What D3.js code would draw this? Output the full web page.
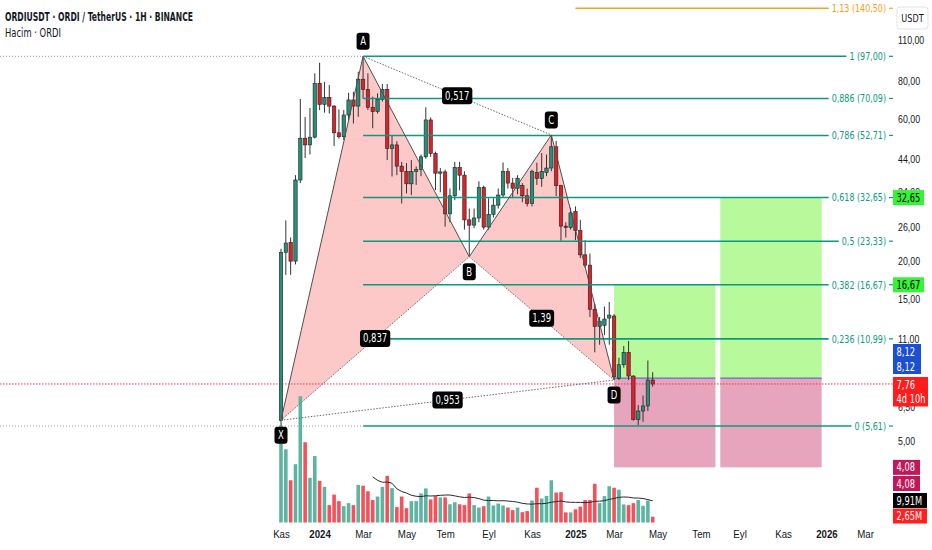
<!DOCTYPE html>
<html>
<head>
<meta charset="utf-8">
<script src="https://cdn.jsdelivr.net/npm/d3@7"></script>
<style>
body { margin: 0; background: #fff; }
svg { display: block; font-family: "Liberation Sans Narrow", "Arial Narrow", "DejaVu Sans Condensed", sans-serif; }
</style>
</head>
<body>
<div id="chart"></div>
<script>
// weekly candles, ORDI/USDT
const firstWeek = "2023-11-06";
const opens  = [5.85,21.4,23.1,20.0,37.4,51.6,49.0,52.0,78.8,67.0,70.7,66.1,53.8,52.2,61.7,69.3,66.1,81.3,75.2,65.5,
                63.3,69.6,75.2,47.7,49.0,41.6,39.9,36.3,39.9,40.5,44.7,59.4,45.9,39.4,39.8,28.8,33.1,41.2,38.8,27.5,
                26.4,27.9,35.3,26.0,28.7,30.8,33.3,39.9,36.5,35.1,35.8,33.1,31.2,39.6,37.8,39.6,41.0,48.3,35.8,26.2,
                25.9,29.3,25.3,21.0,19.4,13.8,12.1,12.2,12.9,13.1,8.1,9.0,9.9,8.25,5.9,6.3,6.55,8.0];
const highs  = [22.0,27.4,24.0,38.8,69.8,60.8,65.1,85.1,92.3,79.7,77.8,66.5,64.4,64.1,73.2,73.8,86.1,97.0,85.1,71.1,
                72.9,78.4,78.4,52.5,50.4,43.0,42.6,43.6,41.5,45.5,65.5,60.5,46.5,41.0,40.5,35.0,43.0,43.0,40.0,30.0,
                30.0,37.0,35.8,32.5,32.5,35.0,42.8,41.0,38.0,38.8,36.5,35.0,40.5,42.7,46.0,45.5,52.9,50.5,36.0,27.0,
                30.2,30.5,27.5,23.5,21.2,14.4,13.0,14.1,14.6,13.3,9.5,10.4,10.8,8.3,6.6,7.1,9.3,8.5];
const lows   = [5.61,18.0,18.0,19.5,36.5,44.3,45.5,51.5,64.1,62.8,62.4,48.6,51.4,50.9,59.4,57.8,60.8,70.0,64.1,55.7,
                62.4,68.4,43.6,38.4,38.8,31.2,33.7,33.3,36.0,38.5,44.0,44.7,34.6,34.0,26.1,27.0,32.0,34.5,25.5,20.7,
                25.8,27.0,25.5,25.5,28.0,30.0,32.8,35.0,32.5,33.5,31.5,30.5,30.5,36.0,35.5,38.5,40.0,33.0,23.4,24.0,
                25.5,23.5,20.5,19.0,13.0,9.9,10.5,11.3,10.5,8.0,8.0,8.8,8.0,5.85,5.65,5.8,6.3,7.6];
const closes = [21.4,23.0,20.0,37.4,51.6,49.0,52.0,78.8,67.0,70.7,66.1,53.8,52.2,61.7,69.3,66.1,81.3,75.2,65.5,63.3,
                69.6,75.2,47.7,49.0,41.6,39.9,36.3,39.9,40.5,44.7,59.4,45.9,39.4,39.8,28.8,33.1,41.2,38.8,27.5,26.4,
                27.9,35.3,26.0,28.7,30.8,33.3,39.9,36.5,35.1,37.9,33.1,31.2,39.9,37.8,39.9,41.0,48.3,35.8,26.2,25.9,
                29.0,25.3,21.0,19.4,13.8,12.1,12.6,12.8,13.2,8.2,9.0,9.9,8.25,5.9,6.3,6.55,8.0,7.76];
// volume in millions
const volumes = [44.0,33.3,19.2,26.5,57.4,36.5,20.3,30.2,18.9,16.2,7.9,12.7,9.7,7.4,8.8,7.9,17.1,16.7,14.2,10.2,
                 11.8,16.2,21.2,15.6,7.0,11.8,6.5,9.7,9.7,13.2,15.5,10.5,12.0,11.4,11.4,8.3,9.2,8.3,7.9,13.2,
                 7.9,6.8,7.4,11.8,7.7,8.6,7.7,6.8,5.6,6.8,4.7,5.2,10.0,15.8,10.9,12.1,19.2,13.6,13.8,4.6,
                 4.6,6.0,7.2,10.2,10.2,17.6,8.8,12.0,16.5,15.8,14.9,8.2,7.9,8.8,10.2,7.6,10.0,2.65];

// fibonacci retracement X -> A
const fibRatios = [1, 0.886, 0.786, 0.618, 0.5, 0.382, 0.236, 0];
const fibPrices = [97.00, 70.09, 52.71, 32.65, 23.33, 16.67, 10.99, 5.61];
const fibStart = "2024-03-04";
const extRatio = 1.13, extPrice = 140.50, extStart = "2025-01-06";

// XABCD pattern
const patLetters = ["X", "A", "B", "C", "D"];
const patDates   = ["2023-11-06", "2024-03-04", "2024-08-05", "2024-12-02", "2025-03-03"];
const patPrices  = [5.87, 97.0, 20.7, 52.9, 8.0];
const patRatios  = [[1, 3, "0,517"], [0, 2, "0,837"], [2, 4, "1,39"], [0, 4, "0,953"]];

// long positions
const posStarts  = ["2025-03-03", "2025-08-04"];
const posEnds    = ["2025-07-28", "2025-12-29"];
const posEntry   = 8.12;
const posTargets = [16.67, 32.65];
const posStop    = 4.08;
const lastPrice  = 7.76;
const barLeft    = "4d 10h";
const volMA      = "9,91M";
const volLast    = "2,65M";

// axes
const priceTicks = [110, 80, 60, 44, 34, 26, 20, 15, 11, 6.5, 5];
const timeTicks  = ["2023-11-06","2024-01-01","2024-03-04","2024-05-06","2024-07-01","2024-09-02","2024-11-04",
                    "2025-01-06","2025-03-03","2025-05-05","2025-07-07","2025-09-01","2025-11-03","2026-01-05","2026-03-02"];
const timeLabels = ["Kas","2024","Mar","May","Tem","Eyl","Kas","2025","Mar","May","Tem","Eyl","Kas","2026","Mar"];

const W = 932, H = 550;
const loc = d3.formatLocale({decimal: ",", thousands: ".", grouping: [3], currency: ["", ""]});
const f2 = loc.format(".2f");
const fr = loc.format("~g");
const pd = s => new Date(s + "T00:00:00Z");

// narrow the glyphs, the screenshot font is condensed
const squeeze = (sel, k) => sel.each(function () {
  const w = this.getComputedTextLength();
  d3.select(this).attr("textLength", w * k).attr("lengthAdjust", "spacingAndGlyphs");
});

const t0 = pd(firstWeek);
const weeks = opens.map((_, i) => d3.utcMonday.offset(t0, i));

const x = d3.scaleUtc().domain([t0, weeks[weeks.length - 1]]).range([281, 652.7]);
const y = d3.scaleLog().domain([110, 5]).range([40, 441]);
const yv = d3.scaleLinear().domain([0, 60]).range([522.5, 390.5]);

const svg = d3.select("#chart").append("svg").attr("width", W).attr("height", H);

const green = "#268f77", red = "#dc2228";

// dotted helper lines
[fibPrices[0], fibPrices[7]].forEach(p => {
  svg.append("line").attr("x1", 0).attr("x2", x(pd(fibStart)))
    .attr("y1", y(p)).attr("y2", y(p))
    .attr("stroke", "#9a9a9a").attr("stroke-dasharray", "1,2");
});

// long position zones
posStarts.forEach((s, i) => {
  const x0 = x(pd(s)), x1 = x(pd(posEnds[i]));
  svg.append("rect").attr("x", x0).attr("width", x1 - x0)
    .attr("y", y(posTargets[i])).attr("height", y(posEntry) - y(posTargets[i]))
    .attr("fill", "#b8f99c");
  svg.append("rect").attr("x", x0).attr("width", x1 - x0)
    .attr("y", y(posEntry)).attr("height", y(posStop) - y(posEntry))
    .attr("fill", "#e6a5bd");
  svg.append("line").attr("x1", x0).attr("x2", x1)
    .attr("y1", y(posEntry)).attr("y2", y(posEntry))
    .attr("stroke", "#3d5bd6").attr("stroke-width", 1);
});

// pattern triangles
const pt = i => [x(pd(patDates[i])), y(patPrices[i])];
[[0, 1, 2], [2, 3, 4]].forEach(tri => {
  svg.append("path")
    .attr("d", d3.line()(tri.map(pt)) + "Z")
    .attr("fill", "#fdc8c8");
});

// volume
svg.append("g").selectAll("rect")
  .data(volumes)
  .join("rect")
  .attr("x", (d, i) => x(weeks[i]) - 1.8)
  .attr("width", 3.6)
  .attr("y", d => yv(d))
  .attr("height", d => yv(0) - yv(d))
  .attr("fill", (d, i) => closes[i] >= opens[i] ? "#5bb5a1" : "#f6505a");

const ma = volumes.map((v, i) => i < 19 ? null : d3.mean(volumes.slice(i - 19, i + 1)));
svg.append("path")
  .attr("d", d3.line().defined(d => d != null).x((d, i) => x(weeks[i])).y(d => yv(d))(ma))
  .attr("fill", "none").attr("stroke", "#2b2b2b").attr("stroke-width", 1);

// current price line
svg.append("line").attr("x1", 0).attr("x2", 897)
  .attr("y1", y(lastPrice)).attr("y2", y(lastPrice))
  .attr("stroke", "#f23645").attr("stroke-dasharray", "1.5,1.5");

// candles
const candles = svg.append("g").selectAll("g")
  .data(opens)
  .join("g");
candles.append("line")
  .attr("x1", (d, i) => x(weeks[i])).attr("x2", (d, i) => x(weeks[i]))
  .attr("y1", (d, i) => y(highs[i])).attr("y2", (d, i) => y(lows[i]))
  .attr("stroke", "#333").attr("stroke-width", 1);
candles.append("rect")
  .attr("x", (d, i) => x(weeks[i]) - 1.7)
  .attr("width", 3.4)
  .attr("y", (d, i) => y(Math.max(opens[i], closes[i])))
  .attr("height", (d, i) => Math.max(1, Math.abs(y(opens[i]) - y(closes[i]))))
  .attr("fill", (d, i) => closes[i] >= opens[i] ? green : red)
  .attr("stroke", "#222").attr("stroke-width", 0.6);

// fibonacci levels
const fibG = svg.append("g");
const fx0 = x(pd(fibStart));
const fibLevel = (ratio, price, start, color) => {
  const yy = y(price);
  const t = fibG.append("text")
    .attr("x", 886).attr("y", yy).attr("dy", "0.35em")
    .attr("text-anchor", "end")
    .attr("font-size", 10.8).attr("fill", color)
    .text(`${fr(ratio)} (${f2(price)})`);
  squeeze(t, 0.82);
  const tw = +t.attr("textLength");
  fibG.append("line").attr("x1", start).attr("x2", 886 - tw - 3)
    .attr("y1", yy).attr("y2", yy)
    .attr("stroke", color).attr("stroke-width", 1.6);
  fibG.append("line").attr("x1", 889).attr("x2", 893)
    .attr("y1", yy).attr("y2", yy)
    .attr("stroke", color).attr("stroke-width", 1.2);
};
fibRatios.forEach((r, i) => fibLevel(r, fibPrices[i], fx0, "#0b9a80"));
fibLevel(extRatio, extPrice, x(pd(extStart)), "#f5a023");

// pattern edges
const edge = svg.append("g");
[[0, 1], [1, 2], [2, 3], [3, 4]].forEach(([a, b]) => {
  edge.append("line").attr("x1", pt(a)[0]).attr("y1", pt(a)[1])
    .attr("x2", pt(b)[0]).attr("y2", pt(b)[1])
    .attr("stroke", "#505050").attr("stroke-width", 1);
});
patRatios.forEach(([a, b]) => {
  edge.append("line").attr("x1", pt(a)[0]).attr("y1", pt(a)[1])
    .attr("x2", pt(b)[0]).attr("y2", pt(b)[1])
    .attr("stroke", "#6a6a6a").attr("stroke-width", 1)
    .attr("stroke-dasharray", "1.5,1.5");
});

// label boxes
const boxLabel = (cx, cy, txt, minW) => {
  const g = svg.append("g");
  const r = g.append("rect").attr("fill", "#000").attr("rx", 3);
  const t = g.append("text").attr("x", cx).attr("y", cy).attr("dy", "0.35em")
    .attr("text-anchor", "middle").attr("font-size", 11.5).attr("fill", "#fff").text(txt);
  squeeze(t, 0.82);
  const w = Math.max(minW, +t.attr("textLength") + 6);
  r.attr("x", cx - w / 2).attr("y", cy - 8.5).attr("width", w).attr("height", 17);
};
patRatios.forEach(([a, b, lab]) => {
  const m = [(pt(a)[0] + pt(b)[0]) / 2, (pt(a)[1] + pt(b)[1]) / 2];
  boxLabel(m[0], m[1], lab, 20);
});
const labelAbove = [false, true, false, true, false];
patLetters.forEach((l, i) => {
  const p = pt(i);
  boxLabel(p[0], p[1] + (labelAbove[i] ? -15 : 15), l, 13);
});

// price axis
const yAxis = d3.axisRight(y).tickValues(priceTicks).tickSize(0).tickPadding(0).tickFormat(f2);
svg.append("g").attr("transform", "translate(898,0)").call(yAxis)
  .call(g => g.select(".domain").remove())
  .call(g => g.selectAll("text").attr("font-size", 11).attr("fill", "#131722")
    .attr("font-family", null).call(squeeze, 0.8));

// time axis
const xAxis = d3.axisBottom(x).tickValues(timeTicks.map(pd)).tickSize(0).tickPadding(0)
  .tickFormat((d, i) => timeLabels[i]);
svg.append("g").attr("transform", "translate(0,530)").call(xAxis)
  .call(g => g.select(".domain").remove())
  .call(g => g.selectAll("text").attr("font-size", 11).attr("fill", "#131722")
    .attr("font-family", null)
    .attr("font-weight", (d, i) => /^\d/.test(timeLabels[i]) ? "bold" : null)
    .call(squeeze, 0.88));

// currency box
svg.append("rect").attr("x", 897).attr("y", 7).attr("width", 31).attr("height", 22)
  .attr("rx", 3).attr("fill", "#fff").attr("stroke", "#e0e3eb");
svg.append("text").attr("x", 912.5).attr("y", 18).attr("dy", "0.35em").attr("text-anchor", "middle")
  .attr("font-size", 11).attr("fill", "#131722").text("USDT").call(squeeze, 0.82);

// right scale badges
const badges = [
  [y(posTargets[1]), f2(posTargets[1]), "#33f533", "#000", 31],
  [y(posTargets[0]), f2(posTargets[0]), "#33f533", "#000", 31],
  [351.5, f2(posEntry), "#1d4fd3", "#fff", 28],
  [366.5, f2(posEntry), "#1d4fd3", "#fff", 28],
  [384.5, f2(lastPrice), "#ff1c1c", "#fff", 35],
  [399, barLeft, "#ff1c1c", "#fff", 35],
  [y(posStop), f2(posStop), "#c2185b", "#fff", 27],
  [483.5, f2(posStop), "#c2185b", "#fff", 27],
  [500.5, volMA, "#000", "#fff", 34],
  [516, volLast, "#ff2020", "#fff", 34]
];
badges.forEach(([cy, txt, bg, fg, w]) => {
  svg.append("rect").attr("x", 893).attr("y", cy - 7.5).attr("width", w).attr("height", 15).attr("fill", bg);
  svg.append("text").attr("x", 896.5).attr("y", cy).attr("dy", "0.35em")
    .attr("font-size", 11.5).attr("fill", fg).text(txt).call(squeeze, 0.8);
});

// titles
svg.append("text").attr("x", 5).attr("y", 21).attr("font-size", 12.5).attr("font-weight", "bold")
  .attr("fill", "#131722").text("ORDIUSDT · ORDI / TetherUS · 1H · BINANCE")
  .attr("textLength", 188).attr("lengthAdjust", "spacingAndGlyphs");
svg.append("text").attr("x", 5).attr("y", 37).attr("font-size", 12.5)
  .attr("fill", "#131722").text("Hacim · ORDI")
  .attr("textLength", 56).attr("lengthAdjust", "spacingAndGlyphs");
</script>
</body>
</html>
